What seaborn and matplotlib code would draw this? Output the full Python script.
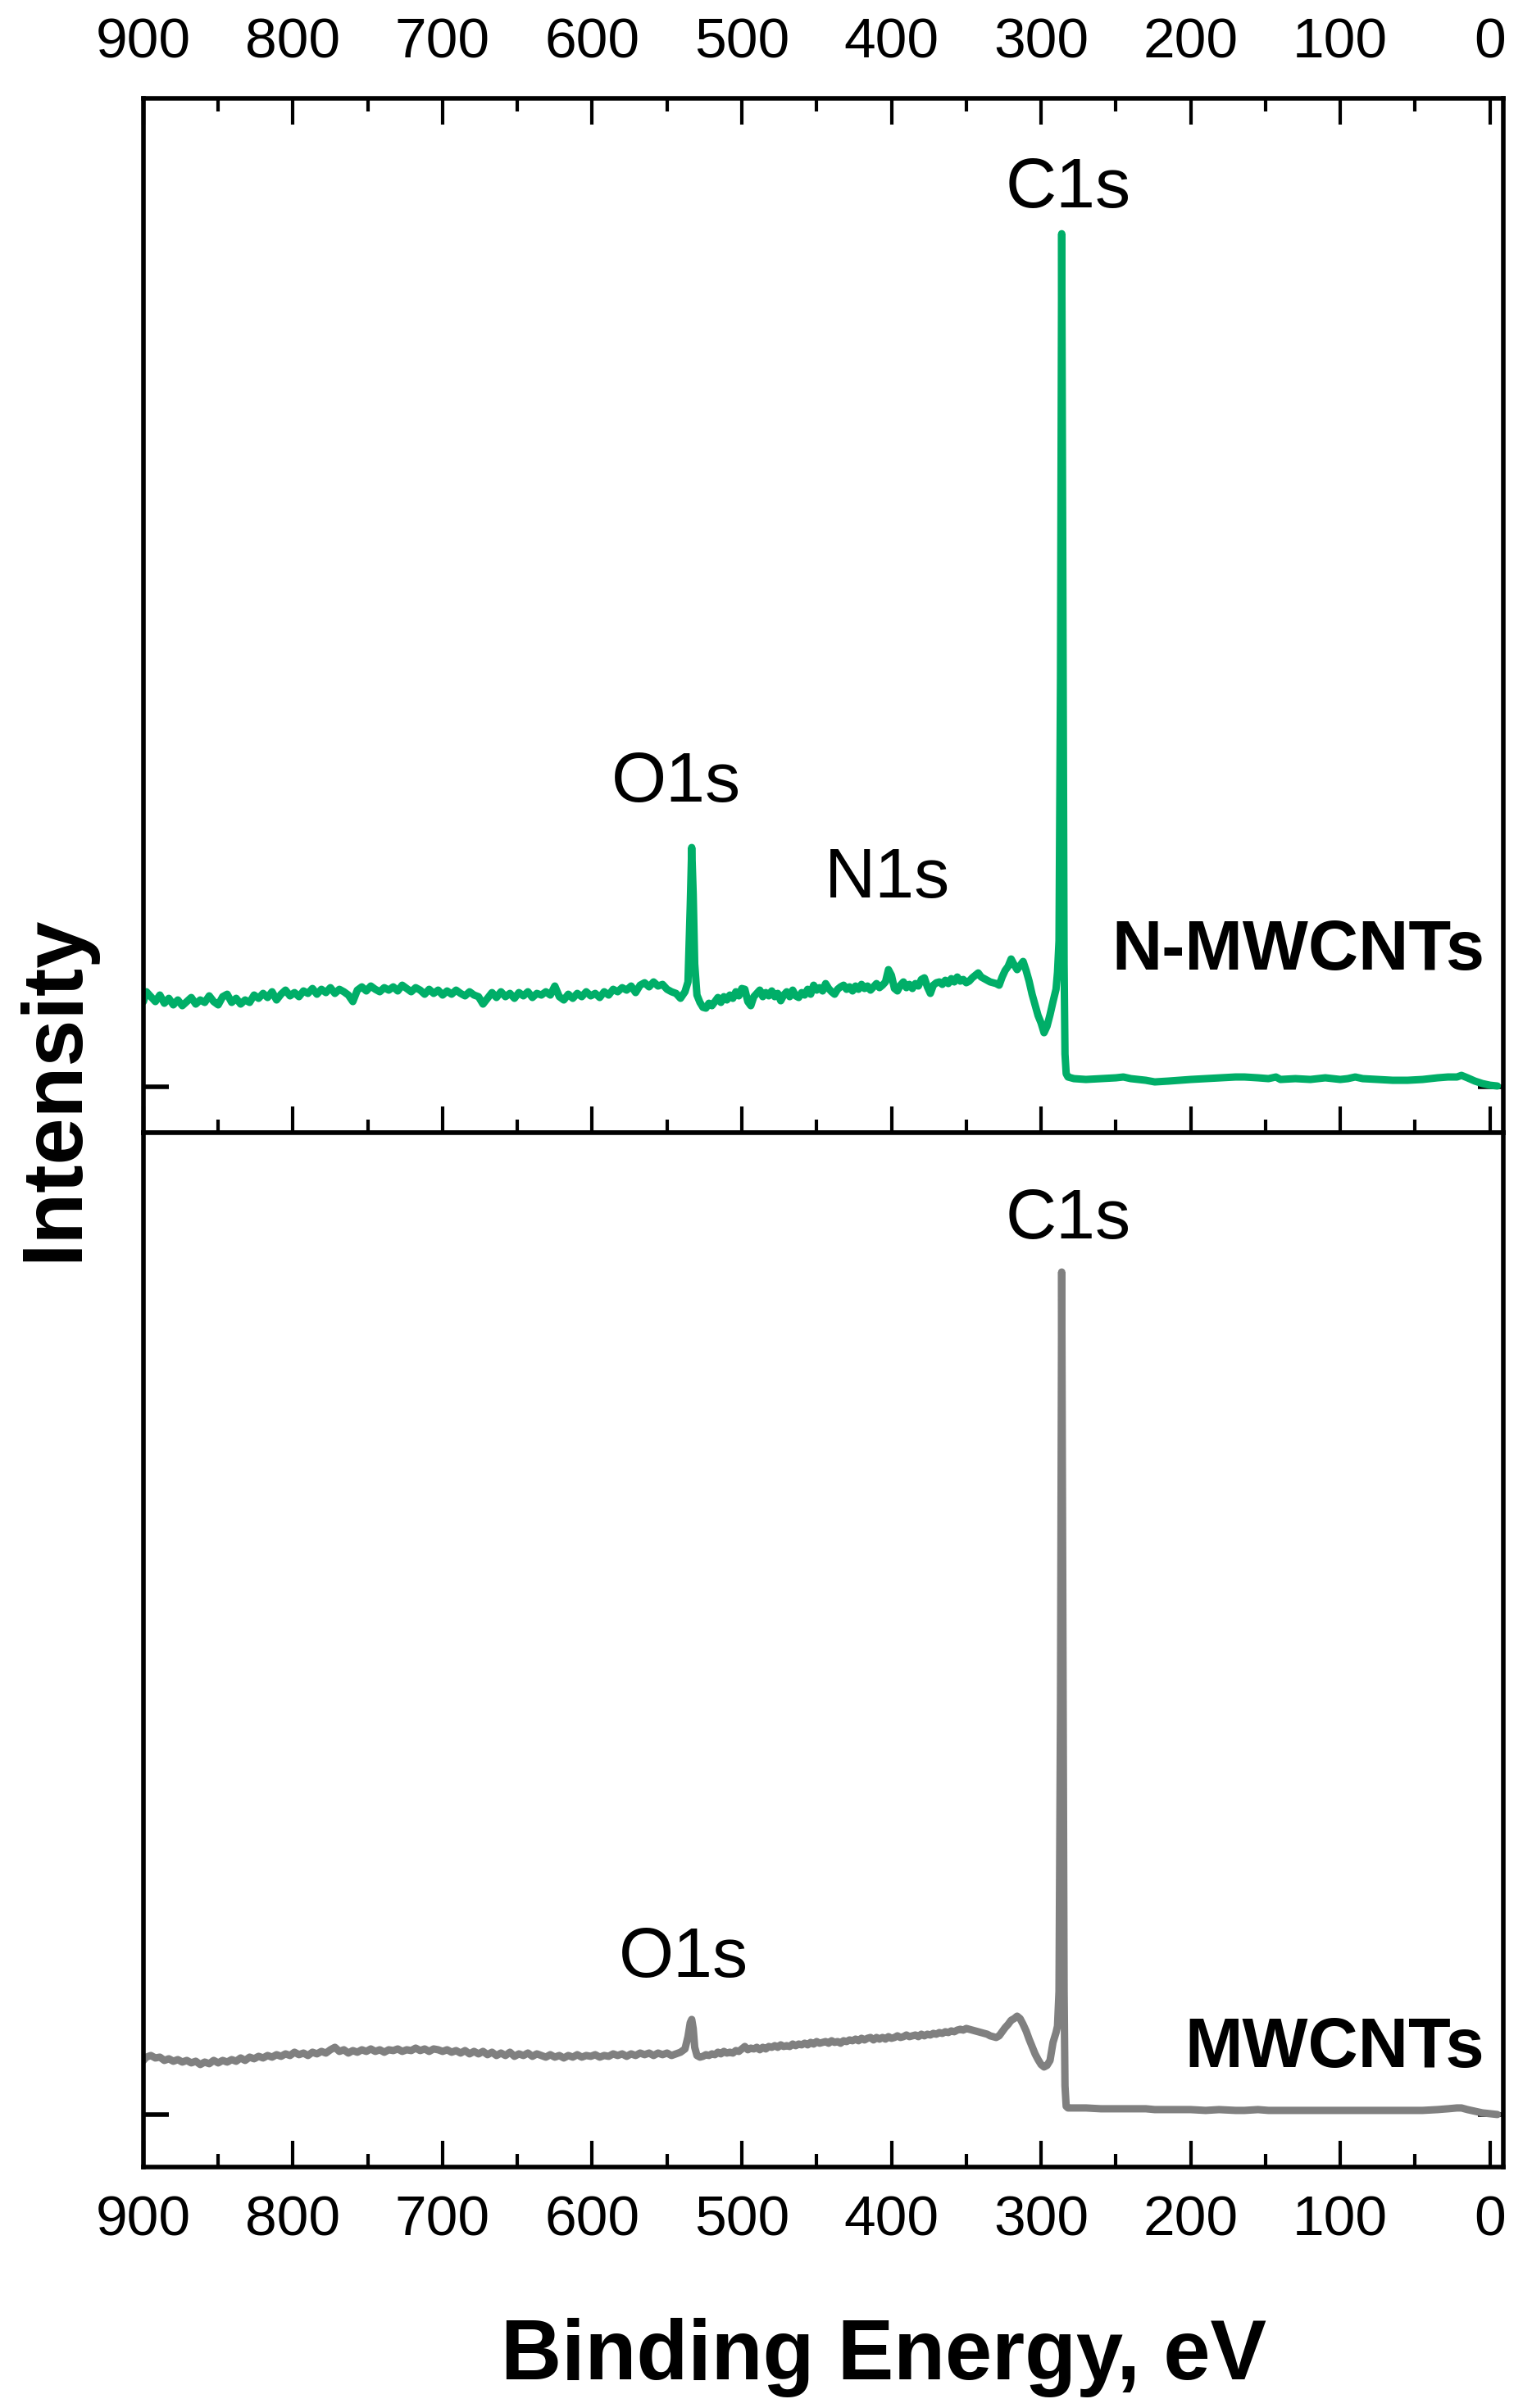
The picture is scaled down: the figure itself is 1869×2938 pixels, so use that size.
import pandas as pd
import seaborn as sns
import matplotlib
matplotlib.use('Agg')
import matplotlib.pyplot as plt
from matplotlib.ticker import MultipleLocator

# binding energy, eV (shared by both survey spectra)
energy = [
    900, 898, 895, 892, 889, 886, 883, 880, 877, 874,
    871, 868, 865, 862, 859, 856, 853, 850, 847, 844,
    841, 838, 835, 832, 829, 826, 823, 820, 817, 814,
    811, 808, 805, 802, 799, 796, 793, 790, 787, 784,
    781, 778, 775, 772, 769, 766, 763, 760, 757, 754,
    751, 748, 745, 742, 739, 736, 733, 730, 727, 724,
    721, 718, 715, 712, 709, 706, 703, 700, 697, 694,
    691, 688, 685, 682, 679, 676, 673, 670, 667, 664,
    661, 658, 655, 652, 649, 646, 643, 640, 637, 634,
    631, 628, 625, 622, 619, 616, 613, 610, 607, 604,
    601, 598, 595, 592, 589, 586, 583, 580, 577, 574,
    571, 568, 565, 562, 559, 556, 553, 550, 547, 544,
    541, 538, 536, 534.5, 533.5, 532.5, 531.5, 530, 528, 526,
    524, 522, 520, 518, 516, 514, 512, 510, 508, 506,
    504, 502, 500, 498, 496, 494, 492, 490, 488, 486,
    484, 482, 480, 478, 476, 474, 472, 470, 468, 466,
    464, 462, 460, 458, 456, 454, 452, 450, 448, 446,
    444, 442, 440, 438, 436, 434, 432, 430, 428, 426,
    424, 422, 420, 418, 416, 414, 412, 410, 408, 406,
    404, 402, 400, 398, 396, 394, 392, 390, 388, 386,
    384, 382, 380, 378, 376, 374, 372, 370, 368, 366,
    364, 362, 360, 358, 356, 354, 352, 350, 348, 346,
    344, 342, 340, 338, 336, 334, 332, 330, 328, 326,
    324, 322, 320, 318, 316, 314, 312, 310, 308, 306,
    304, 302, 300, 298, 296, 294, 292, 290, 289, 288,
    287, 286.2, 285.4, 284.6, 284, 283.2, 282, 280, 278, 270,
    260, 250, 245, 240, 230, 224, 215, 200, 190, 181,
    170, 164, 155, 148, 143, 140, 130, 120, 110, 100,
    95, 90, 85, 75, 65, 55, 45, 35, 28, 22,
    19, 15, 10, 5, 0, -5,
]

# intensity, a.u.
n_mwcnts = [
    104, 116, 110, 104, 112, 102, 108, 100, 106, 99,
    104, 109, 101, 106, 103, 111, 104, 100, 110, 113,
    103, 108, 101, 106, 103, 112, 108, 114, 109, 116,
    106, 113, 118, 111, 115, 110, 117, 114, 120, 113,
    119, 115, 121, 114, 119, 116, 112, 104, 118, 122,
    117, 123, 119, 116, 121, 118, 122, 117, 124, 120,
    116, 121, 118, 113, 119, 114, 118, 112, 117, 113,
    118, 114, 111, 116, 112, 110, 101, 108, 115, 109,
    116, 110, 114, 108, 115, 111, 116, 109, 114, 112,
    116, 112, 123, 110, 106, 113, 108, 114, 110, 116,
    111, 114, 109, 116, 112, 119, 116, 121, 118, 123,
    115, 124, 127, 122, 128, 123, 125, 119, 116, 114,
    108, 116, 128, 220, 292, 235, 150, 112, 103, 97,
    96, 102, 99, 104, 109, 103, 110, 106, 112, 108,
    116, 111, 120, 119, 104, 99, 110, 114, 118, 110,
    115, 111, 117, 110, 114, 105, 112, 116, 110, 118,
    111, 109, 115, 112, 119, 113, 124, 118, 121, 117,
    126, 120, 116, 113, 119, 122, 124, 119, 122, 117,
    123, 119, 125, 120, 123, 118, 122, 126, 121, 124,
    128, 143, 136, 120, 117, 124, 128, 121, 125, 120,
    126, 123, 131, 133, 122, 114, 124, 127, 128, 125,
    130, 126, 132, 128, 134, 129, 131, 127, 129, 133,
    136, 139, 134, 132, 130, 128, 127, 126, 124, 134,
    142, 147, 156, 149, 143, 148, 153, 142, 129, 113,
    100, 87, 78, 66, 74, 88, 104, 119, 140, 178,
    500, 1041, 600, 150, 40, 16, 12, 11, 10, 9,
    10, 11, 12, 10, 8, 6, 7, 9, 10, 11,
    12, 12, 11, 10, 12, 9, 10, 9, 11, 9,
    10, 12, 10, 9, 8, 8, 9, 11, 12, 12,
    14, 11, 7, 4, 2, 1,
]

mwcnts = [
    66, 70, 72, 69, 70, 66, 68, 65, 67, 64,
    66, 63, 65, 61, 64, 62, 66, 63, 66, 64,
    67, 65, 69, 66, 70, 68, 71, 69, 72, 70,
    73, 71, 74, 72, 76, 73, 75, 72, 76, 74,
    77, 75, 79, 82, 77, 79, 75, 78, 76, 79,
    77, 80, 77, 79, 76, 79, 78, 80, 77, 79,
    78, 81, 78, 80, 77, 80, 79, 77, 79, 76,
    78, 75, 78, 74, 77, 74, 77, 73, 76, 72,
    75, 72, 76, 71, 74, 72, 75, 71, 74, 72,
    70, 73, 70, 72, 69, 72, 70, 73, 70, 72,
    71, 73, 70, 72, 71, 74, 72, 74, 71, 74,
    72, 75, 73, 75, 72, 75, 73, 75, 72, 74,
    76, 80, 95, 112, 116, 105, 82, 72, 70, 71,
    73, 72, 74, 73, 76, 74, 77, 75, 76, 75,
    78, 77, 80, 83, 79, 81, 80, 82, 79, 82,
    80, 83, 82, 84, 82, 85, 83, 84, 83, 86,
    84, 86, 85, 87, 85, 88, 86, 89, 87, 88,
    89, 87, 90, 88, 89, 87, 90, 89, 91, 90,
    92, 90, 93, 91, 93, 94, 91, 94, 92, 94,
    92, 95, 93, 94, 96, 94, 95, 97, 95, 96,
    97, 95, 98, 96, 98, 97, 99, 98, 100, 99,
    101, 100, 102, 101, 103, 104, 103, 105, 104, 103,
    102, 101, 100, 99, 98, 96, 95, 94, 96, 101,
    106, 110, 115, 117, 120, 117, 110, 102, 92, 83,
    74, 67, 61, 58, 60, 66, 88, 100, 108, 150,
    500, 1028, 600, 150, 35, 10, 8, 8, 8, 8,
    7, 7, 7, 7, 7, 6, 6, 6, 5, 6,
    5, 5, 6, 5, 5, 5, 5, 5, 5, 5,
    5, 5, 5, 5, 5, 5, 5, 6, 7, 8,
    8, 6, 4, 2, 1, 0,
]

# peak labels: (text, energy, intensity)
top_peaks = [("C1s", 282, 1073), ("O1s", 544, 348), ("N1s", 403, 231)]
bot_peaks = [("C1s", 282, 1069), ("O1s", 539, 168)]

sns.set_style("ticks")
plt.rcParams['font.family'] = ['Liberation Sans', 'DejaVu Sans']
plt.rcParams['text.color'] = 'black'
plt.rcParams['xtick.color'] = 'black'
plt.rcParams['ytick.color'] = 'black'
plt.rcParams['axes.edgecolor'] = 'black'

df = pd.DataFrame({"energy": energy, "N-MWCNTs": n_mwcnts, "MWCNTs": mwcnts})

fig = plt.figure(figsize=(18.69, 29.38), dpi=100)
ax_top = fig.add_axes([0.0936, 0.5296, 0.8877, 0.4295])
ax_bot = fig.add_axes([0.0936, 0.1001, 0.8877, 0.4295])

sns.lineplot(data=df, x="energy", y="N-MWCNTs", color="#00AE68", lw=6.5,
             estimator=None, sort=False, ax=ax_top)
sns.lineplot(data=df, x="energy", y="MWCNTs", color="#808080", lw=6.5,
             estimator=None, sort=False, ax=ax_bot)


def _style_axis(ax):
    ax.set_xlim(900, -9)
    ax.xaxis.set_major_locator(MultipleLocator(100))
    ax.xaxis.set_minor_locator(MultipleLocator(50))
    ax.set_yticks([0])
    ax.tick_params(axis='y', direction='in', left=True, right=True,
                   labelleft=False, labelright=False, length=22, width=4,
                   color='black')
    ax.tick_params(axis='x', which='major', length=23, width=3, color='black')
    ax.tick_params(axis='x', which='minor', length=11.5, width=3, color='black')
    ax.tick_params(axis='x', labelsize=50, labelcolor='black')
    for s in ax.spines.values():
        s.set_visible(True)
        s.set_linewidth(4)
        s.set_color("black")
    ax.set_xlabel("")
    ax.set_ylabel("")


_style_axis(ax_top)
_style_axis(ax_bot)
ax_top.set_ylim(-56, 1206)
ax_bot.set_ylim(-64, 1198)

ax_top.tick_params(axis='x', which='both', direction='in', top=True, bottom=True,
                   labeltop=True, labelbottom=False, pad=26)
ax_bot.tick_params(axis='x', which='both', direction='in', top=False, bottom=True,
                   labeltop=False, labelbottom=True, pad=24)

for label, e, i in top_peaks:
    ax_top.text(e, i, label, ha="center", va="baseline", fontsize=62, color="black")
for label, e, i in bot_peaks:
    ax_bot.text(e, i, label, ha="center", va="baseline", fontsize=62, color="black")

ax_top.text(3.6, 143, "N-MWCNTs", ha="right", va="baseline", fontsize=61,
            fontweight="bold", color="black")
ax_bot.text(3.6, 58, "MWCNTs", ha="right", va="baseline", fontsize=61,
            fontweight="bold", color="black")

fig.text(0.577, 0.0119, "Binding Energy, eV", ha="center", va="baseline",
         fontsize=74, fontweight="bold", color="black")
fig.text(0.0364, 0.548, "Intensity", ha="center", va="center", rotation=90,
         fontsize=74, fontweight="bold", color="black")

fig.savefig("out.png", dpi=100)
plt.close(fig)
